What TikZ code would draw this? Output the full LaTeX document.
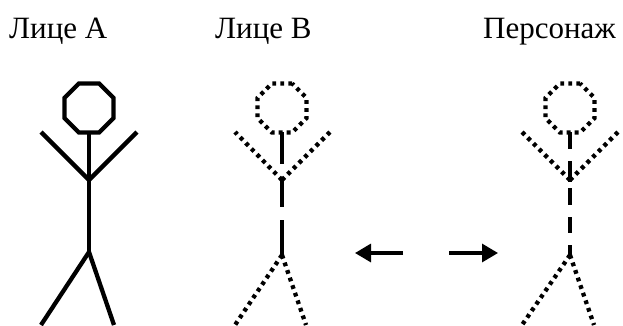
\documentclass[tikz,border=0pt]{standalone}
\usepackage{fontspec}
\setmainfont{Liberation Serif}
\usetikzlibrary{shapes.geometric,arrows.meta}
\tikzset{
  title/.style={anchor=base west, inner sep=0pt, font=\fontsize{31}{36}\selectfont},
  head/.style={regular polygon, regular polygon sides=8, minimum size=53pt, inner sep=0pt, outer sep=0pt, draw},
  limb/.style={line width=4.3pt},
  dots/.style={line width=4.3pt, dash pattern=on 3.8pt off 4.2pt},
  arrow/.style={line width=3.2pt, -{Triangle[length=16pt,width=18pt]}}
}
\begin{document}
\begin{tikzpicture}[x=1pt,y=-1pt]
    \useasboundingbox (0,0) rectangle (623,325);

    % labels
    \node[title] (labelA) at (9, 38) {Лице А};
    \node[title] (labelB) at (215, 38) {Лице В};
    \node[title] (labelP) at (483, 38) {Персонаж};

    % figure A
    \node[head, line width=4.3pt] (headA) at (89, 108) {};
    \coordinate (jointA) at (89, 180);
    \coordinate (hipA) at (89, 252);
    \coordinate (handA1) at (41, 132);
    \coordinate (handA2) at (137, 132);
    \coordinate (footA1) at (41, 325);
    \coordinate (footA2) at (114, 325);
    \draw[limb] (headA.south) -- (hipA);
    \draw[limb] (jointA) -- (handA1);
    \draw[limb] (jointA) -- (handA2);
    \draw[limb] (hipA) -- (footA1);
    \draw[limb] (hipA) -- (footA2);

    % figure B
    \node[head, dots] (headB) at (282, 108) {};
    \coordinate (jointB) at (282, 180);
    \coordinate (hipB) at (282, 255);
    \coordinate (handB1) at (235, 132);
    \coordinate (handB2) at (330, 132);
    \coordinate (footB1) at (235, 325);
    \coordinate (footB2) at (306, 325);
    \draw[limb, dash pattern=on 32pt off 15pt on 28pt off 13pt on 40pt] (headB.south) -- (hipB);
    \draw[dots] (jointB) -- (handB1);
    \draw[dots] (jointB) -- (handB2);
    \draw[dots] (hipB) -- (footB1);
    \draw[dots] (hipB) -- (footB2);

    % figure P
    \node[head, dots] (headP) at (570, 108) {};
    \coordinate (jointP) at (570, 180);
    \coordinate (hipP) at (570, 255);
    \coordinate (handP1) at (522, 132);
    \coordinate (handP2) at (618, 132);
    \coordinate (footP1) at (522, 325);
    \coordinate (footP2) at (594, 325);
    \draw[limb, dash pattern=on 17pt off 12pt on 21pt off 6pt on 17pt off 12pt on 16pt off 12pt on 12pt] (headP.south) -- (hipP);
    \draw[dots] (jointP) -- (handP1);
    \draw[dots] (jointP) -- (handP2);
    \draw[dots] (hipP) -- (footP1);
    \draw[dots] (hipP) -- (footP2);

    % arrows
    \coordinate (tailL) at (403, 253);
    \coordinate (tipL) at (355, 253);
    \coordinate (tailR) at (449, 253);
    \coordinate (tipR) at (498, 253);
    \draw[arrow] (tailL) -- (tipL);
    \draw[arrow] (tailR) -- (tipR);
\end{tikzpicture}
\end{document}
